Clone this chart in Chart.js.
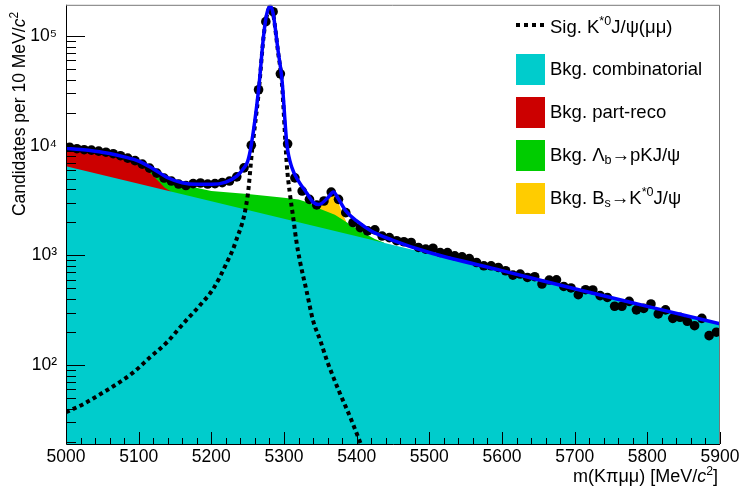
<!DOCTYPE html>
<html>
<head>
<meta charset="utf-8">
<script src="https://cdn.jsdelivr.net/npm/chart.js@4.4.1/dist/chart.umd.min.js"></script>
<style>
body { margin: 0; background: #fff; }
#wrap { position: relative; width: 740px; height: 494px; font-family: "Liberation Sans", Arial, Helvetica, sans-serif; color: #000; }
#massChart { position: absolute; left: 0; top: 0; }
.txt { position: absolute; white-space: nowrap; }
.txt sup, .txt sub { font-size: 0.68em; line-height: 0; }
.txt sup { vertical-align: 0.6em; }
.txt sub { vertical-align: -0.25em; }
.leg { font-size: 18.5px; line-height: 22px; left: 550px; }
.box { position: absolute; left: 516px; width: 29px; height: 31px; }
.dash { position: absolute; left: 516px; top: 23px; width: 28px; height: 4px;
  background: repeating-linear-gradient(to right, #000 0 4px, transparent 4px 8px); }
</style>
</head>
<body>
<div id="wrap">
<canvas id="massChart" width="740" height="494"></canvas>

<div class="txt" id="ytitle" style="font-size:17.5px; line-height:20px; width:212px; text-align:right; transform-origin:0 0; transform:translate(9px,224px) rotate(-90deg);">Candidates per 10 MeV/<i>c</i><sup>2</sup></div>
<div class="txt" style="font-size:18px; line-height:18px; right:22px; top:467px;">m(K&pi;&mu;&mu;) [MeV/<i>c</i><sup>2</sup>]</div>

<div class="dash"></div>
<div class="txt leg" style="top:16px;">Sig. K<sup>*0</sup>J/&psi;(&mu;&mu;)</div>
<div class="box" style="top:54px; background:#00cccc;"></div>
<div class="txt leg" style="top:58px;">Bkg. combinatorial</div>
<div class="box" style="top:97px; background:#cc0000;"></div>
<div class="txt leg" style="top:101px;">Bkg. part-reco</div>
<div class="box" style="top:140px; background:#00cc00;"></div>
<div class="txt leg" style="top:144px;">Bkg. &Lambda;<sub>b</sub>&rarr;pKJ/&psi;</div>
<div class="box" style="top:183px; background:#ffcc00;"></div>
<div class="txt leg" style="top:187px;">Bkg. B<sub>s</sub>&rarr;K<sup>*0</sup>J/&psi;</div>
</div>

<script>
// data: candidates per 10 MeV bin, bin centres in MeV
var binCenters = [5005, 5015, 5025, 5035, 5045, 5055, 5065, 5075, 5085, 5095,
  5105, 5115, 5125, 5135, 5145, 5155, 5165, 5175, 5185, 5195,
  5205, 5215, 5225, 5235, 5245, 5255, 5265, 5275, 5285, 5295,
  5305, 5315, 5325, 5335, 5345, 5355, 5365, 5375, 5385, 5395,
  5405, 5415, 5425, 5435, 5445, 5455, 5465, 5475, 5485, 5495,
  5505, 5515, 5525, 5535, 5545, 5555, 5565, 5575, 5585, 5595,
  5605, 5615, 5625, 5635, 5645, 5655, 5665, 5675, 5685, 5695,
  5705, 5715, 5725, 5735, 5745, 5755, 5765, 5775, 5785, 5795,
  5805, 5815, 5825, 5835, 5845, 5855, 5865, 5875, 5885, 5895]
var candidates = [9680, 9390, 9200, 9110, 8920, 8730, 8460, 8110, 7700, 7310,
  6790, 6240, 5620, 5070, 4760, 4470, 4330, 4510, 4570, 4470,
  4510, 4610, 4760, 5200, 6280, 10100, 32400, 135500, 167000, 45300,
  10400, 5090, 3860, 3240, 2880, 3130, 3780, 3240, 2450, 1990,
  1790, 1670, 1710, 1500, 1450, 1360, 1330, 1310, 1180, 1140,
  1160, 1060, 1060, 990, 970, 935, 860, 803, 803, 775,
  723, 660, 675, 628, 638, 547, 595, 598, 520, 504,
  438, 486, 483, 429, 413, 343, 343, 380, 318, 328,
  360, 292, 318, 266, 272, 250, 228, 266, 185, 199]

// total fit (blue)
var fitX = [5000, 5020, 5040, 5060, 5080, 5100, 5120, 5140, 5160, 5180, 5200, 5220, 5235, 5245, 5250,
  5255, 5265, 5272, 5276, 5281, 5285, 5292, 5297, 5304, 5311, 5320, 5331, 5340, 5348, 5360,
  5368, 5375, 5385, 5400, 5420, 5450, 5500, 5600, 5700, 5800, 5900]
var fitY = [9480, 9230, 8910, 8490, 7910, 7230, 6150, 5100, 4590, 4440, 4440, 4660, 5280, 6300, 7200,
  10200, 32400, 102000, 156000, 189000, 161000, 72300, 41300, 10300, 6280, 4750, 3720, 3060, 2910, 3330,
  3780, 3260, 2540, 2060, 1670, 1370, 1060, 725, 495, 342, 237]

// signal K*0 J/psi (dashed)
var sigX = [5000, 5024, 5047, 5070, 5093, 5116, 5139, 5161, 5184, 5203, 5221, 5233, 5250, 5256, 5265,
  5272, 5276, 5281, 5285, 5292, 5297, 5304, 5308, 5313, 5317, 5322, 5331, 5340, 5350, 5359,
  5368, 5377, 5391, 5402, 5410]
var sigY = [37, 44, 54, 67, 86, 118, 161, 237, 348, 500, 850, 1300, 3500, 9000, 30000,
  100000, 150000, 185000, 160000, 70000, 38000, 6500, 3700, 2130, 1350, 880, 475, 254, 167, 110,
  77, 55, 33.5, 22, 16]

// stacked background tops (each one includes the ones below it)
var combX = [5000, 5900]
var combY = [6500, 237]
var partRecoX = [5000, 5040, 5075, 5093, 5111, 5125, 5136, 5145]
var partRecoY = [9100, 8650, 7850, 7070, 6080, 4930, 4130, 3800]
var lambdabX = [5080, 5100, 5120, 5140, 5160, 5200, 5250, 5300, 5320, 5335, 5350, 5370, 5390, 5410, 5425, 5438]
var lambdabY = [7500, 7000, 5850, 4950, 4400, 3860, 3620, 3350, 3230, 3000, 2650, 2340, 1930, 1600, 1410, 1300]
var bsX = [5345, 5355, 5362, 5368, 5374, 5380, 5386]
var bsY = [2750, 3130, 3480, 3720, 3150, 2450, 2000]

var xTicks = [5000, 5100, 5200, 5300, 5400, 5500, 5600, 5700, 5800, 5900]
var supDigits = {2: "\u00b2", 3: "\u00b3", 4: "\u2074", 5: "\u2075"}

function pts(xs, ys) {
  return xs.map(function (x, i) { return {x: x, y: ys[i]} })
}

function isNice(v) {
  var e = Math.floor(Math.log10(v) + 1e-9)
  var m = v / Math.pow(10, e)
  return Math.abs(m - Math.round(m)) < 1e-6
}

// ROOT style: ticks inside the frame + frame
var insideTicks = {
  id: "insideTicks",
  afterDatasetsDraw: function (chart) {
    var ctx = chart.ctx, a = chart.chartArea
    var xs = chart.scales.x, ys = chart.scales.y
    ctx.save()
    ctx.strokeStyle = "#000"
    ctx.lineWidth = 1
    ctx.beginPath()
    xs.ticks.forEach(function (t) {
      var px = Math.round(xs.getPixelForValue(t.value)) + 0.5
      var len = xTicks.indexOf(t.value) >= 0 ? 12 : 6
      ctx.moveTo(px, a.bottom)
      ctx.lineTo(px, a.bottom - len)
    })
    ys.ticks.forEach(function (t) {
      if (!isNice(t.value)) return
      var py = Math.round(ys.getPixelForValue(t.value)) + 0.5
      var dec = Math.abs(Math.log10(t.value) - Math.round(Math.log10(t.value))) < 1e-9
      ctx.moveTo(a.left, py)
      ctx.lineTo(a.left + (dec ? 19 : 10), py)
    })
    ctx.moveTo(a.left + 0.5, a.top)
    ctx.lineTo(a.left + 0.5, a.bottom + 0.5)
    ctx.lineTo(a.right, a.bottom + 0.5)
    ctx.stroke()
    ctx.strokeStyle = "#777"
    ctx.beginPath()
    ctx.moveTo(a.left, a.top + 0.5)
    ctx.lineTo(a.right - 0.5, a.top + 0.5)
    ctx.lineTo(a.right - 0.5, a.bottom)
    ctx.stroke()
    ctx.restore()
  }
}

var fillSet = function (label, data, color, order) {
  return {
    label: label, data: data, order: order,
    backgroundColor: color, borderWidth: 0, pointRadius: 0,
    fill: "start", tension: 0
  }
}

var ctx = document.getElementById("massChart").getContext("2d")
var chart = new Chart(ctx, {
  type: "line",
  data: {
    datasets: [
      {
        label: "Total fit", data: pts(fitX, fitY), order: 0,
        borderColor: "#0000ff", borderWidth: 3.5, pointRadius: 0,
        cubicInterpolationMode: "monotone", fill: false
      },
      {
        label: "Sig. K*0 J/psi(mumu)", data: pts(sigX, sigY), order: 1,
        borderColor: "#000", borderWidth: 4, borderDash: [4, 3.5], pointRadius: 0,
        cubicInterpolationMode: "monotone", fill: false
      },
      {
        label: "Data", data: pts(binCenters, candidates), order: 2,
        showLine: false, pointRadius: 4.8, pointBorderWidth: 0,
        pointBackgroundColor: "#000", borderColor: "#000"
      },
      fillSet("Bkg. combinatorial", pts(combX, combY), "#00cccc", 3),
      fillSet("Bkg. part-reco", pts(partRecoX, partRecoY), "#cc0000", 4),
      fillSet("Bkg. Lambda_b", pts(lambdabX, lambdabY), "#00cc00", 5),
      fillSet("Bkg. Bs", pts(bsX, bsY), "#ffcc00", 6)
    ]
  },
  options: {
    responsive: false,
    animation: false,
    layout: {padding: {top: 3, right: 20, left: 0, bottom: 0}},
    plugins: {legend: {display: false}, tooltip: {enabled: false}},
    scales: {
      x: {
        type: "linear", min: 5000, max: 5900,
        grid: {display: false, drawTicks: false},
        border: {display: false},
        ticks: {
          stepSize: 20, autoSkip: false, maxRotation: 0, padding: 3,
          color: "#000", font: {family: "'Liberation Sans', Arial", size: 17.5},
          callback: function (v) { return xTicks.indexOf(v) >= 0 ? String(v) : "" }
        },
        afterFit: function (s) { s.height = 50; s.paddingLeft = 0; s.paddingRight = 0 }
      },
      y: {
        type: "logarithmic", min: 19, max: 193000,
        grid: {display: false, drawTicks: false},
        border: {display: false},
        ticks: {
          autoSkip: false, padding: 9,
          color: "#000", font: {family: "'Liberation Sans', Arial", size: 17.5},
          callback: function (v) {
            var l = Math.log10(v)
            if (Math.abs(l - Math.round(l)) > 1e-9) return ""
            return "10" + (supDigits[Math.round(l)] || "")
          }
        },
        afterFit: function (s) { s.width = 66; s.paddingTop = 0; s.paddingBottom = 0 }
      }
    }
  },
  plugins: [insideTicks]
})
</script>
</body>
</html>
